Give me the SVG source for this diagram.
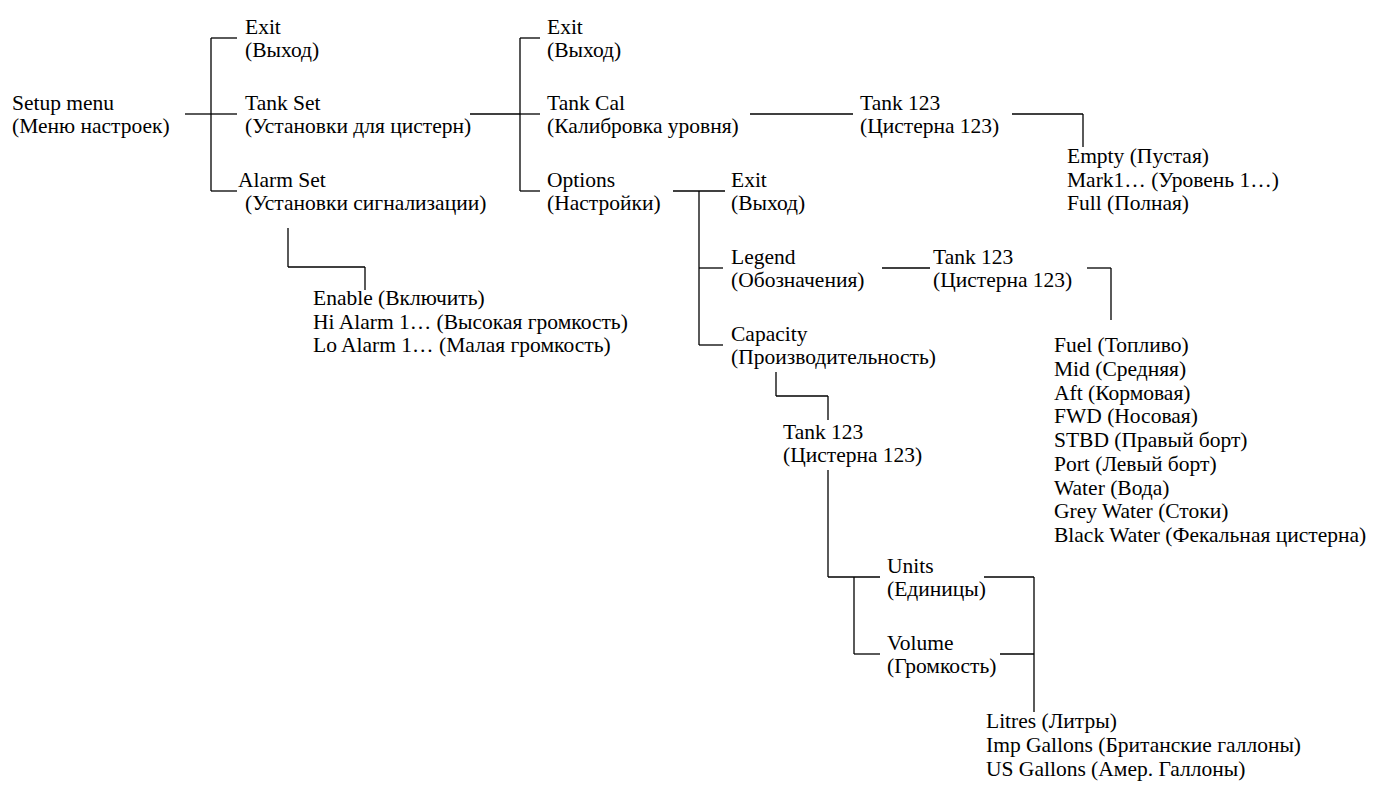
<svg xmlns="http://www.w3.org/2000/svg" width="1375" height="807" viewBox="0 0 1375 807">
<style>
text{font-family:"Liberation Serif","Times New Roman",serif;font-size:21.5px;fill:#000}
.c line{stroke:#000;stroke-width:1.3;fill:none}
</style>
<rect width="1375" height="807" fill="#fff"/>
<g class="c" id="connectors">
<line x1="185" y1="114" x2="211" y2="114"/>
<line x1="211" y1="38" x2="211" y2="191"/>
<line x1="211" y1="38" x2="237" y2="38"/>
<line x1="211" y1="114" x2="237" y2="114"/>
<line x1="211" y1="191" x2="237" y2="191"/>
<line x1="470" y1="114" x2="520" y2="114"/>
<line x1="520" y1="38" x2="520" y2="191"/>
<line x1="520" y1="38" x2="540" y2="38"/>
<line x1="520" y1="114" x2="540" y2="114"/>
<line x1="520" y1="191" x2="540" y2="191"/>
<line x1="750" y1="114" x2="853" y2="114"/>
<line x1="1012" y1="114" x2="1083" y2="114"/>
<line x1="1083" y1="114" x2="1083" y2="147"/>
<line x1="673" y1="191" x2="725" y2="191"/>
<line x1="699" y1="191" x2="699" y2="345"/>
<line x1="699" y1="268" x2="723" y2="268"/>
<line x1="699" y1="345" x2="723" y2="345"/>
<line x1="882" y1="268" x2="930" y2="268"/>
<line x1="1087" y1="268" x2="1111" y2="268"/>
<line x1="1111" y1="268" x2="1111" y2="320"/>
<line x1="288" y1="228" x2="288" y2="267"/>
<line x1="288" y1="267" x2="365" y2="267"/>
<line x1="365" y1="267" x2="365" y2="290"/>
<line x1="776" y1="372" x2="776" y2="396"/>
<line x1="776" y1="396" x2="828" y2="396"/>
<line x1="828" y1="396" x2="828" y2="420"/>
<line x1="828" y1="470" x2="828" y2="577"/>
<line x1="828" y1="577" x2="880" y2="577"/>
<line x1="854" y1="577" x2="854" y2="654"/>
<line x1="854" y1="654" x2="880" y2="654"/>
<line x1="984" y1="577" x2="1034" y2="577"/>
<line x1="1000" y1="654" x2="1034" y2="654"/>
<line x1="1034" y1="577" x2="1034" y2="712"/>
</g>
<g id="setup"><text x="12" y="110">Setup menu</text><text x="12" y="133">(Меню настроек)</text></g>
<g id="exit1"><text x="245" y="33.5">Exit</text><text x="245" y="56.5">(Выход)</text></g>
<g id="tankset"><text x="245" y="110">Tank Set</text><text x="245" y="133">(Установки для цистерн)</text></g>
<g id="alarmset"><text x="238" y="186.5">Alarm Set</text><text x="245" y="209.5">(Установки сигнализации)</text></g>
<g id="exit2"><text x="547" y="33.5">Exit</text><text x="547" y="56.5">(Выход)</text></g>
<g id="tankcal"><text x="547" y="110">Tank Cal</text><text x="547" y="133">(Калибровка уровня)</text></g>
<g id="options"><text x="547" y="186.5">Options</text><text x="547" y="209.5">(Настройки)</text></g>
<g id="tank1"><text x="860" y="110">Tank 123</text><text x="860" y="133">(Цистерна 123)</text></g>
<g id="cal-list"><text x="1067" y="163">Empty (Пустая)</text><text x="1067" y="186.5">Mark1… (Уровень 1…)</text><text x="1067" y="210">Full (Полная)</text></g>
<g id="exit3"><text x="731" y="186.5">Exit</text><text x="731" y="209.5">(Выход)</text></g>
<g id="legend"><text x="731" y="263.5">Legend</text><text x="731" y="286.5">(Обозначения)</text></g>
<g id="capacity"><text x="731" y="340.5">Capacity</text><text x="731" y="363.5">(Производительность)</text></g>
<g id="tank2"><text x="933" y="263.5">Tank 123</text><text x="933" y="286.5">(Цистерна 123)</text></g>
<g id="legend-list">
<text x="1054" y="352">Fuel (Топливо)</text>
<text x="1054" y="375.75">Mid (Средняя)</text>
<text x="1054" y="399.5">Aft (Кормовая)</text>
<text x="1054" y="423.25">FWD (Носовая)</text>
<text x="1054" y="447">STBD (Правый борт)</text>
<text x="1054" y="470.75">Port (Левый борт)</text>
<text x="1054" y="494.5">Water (Вода)</text>
<text x="1054" y="518.25">Grey Water (Стоки)</text>
<text x="1054" y="542">Black Water (Фекальная цистерна)</text>
</g>
<g id="alarm-list"><text x="313" y="305">Enable (Включить)</text><text x="313" y="328.5">Hi Alarm 1… (Высокая громкость)</text><text x="313" y="352">Lo Alarm 1… (Малая громкость)</text></g>
<g id="tank3"><text x="783" y="439">Tank 123</text><text x="783" y="462">(Цистерна 123)</text></g>
<g id="units"><text x="887" y="572.5">Units</text><text x="887" y="595.5">(Единицы)</text></g>
<g id="volume"><text x="887" y="649.5">Volume</text><text x="887" y="672.5">(Громкость)</text></g>
<g id="units-list"><text x="986" y="728">Litres (Литры)</text><text x="986" y="752">Imp Gallons (Британские галлоны)</text><text x="986" y="776">US Gallons (Амер. Галлоны)</text></g>
</svg>
